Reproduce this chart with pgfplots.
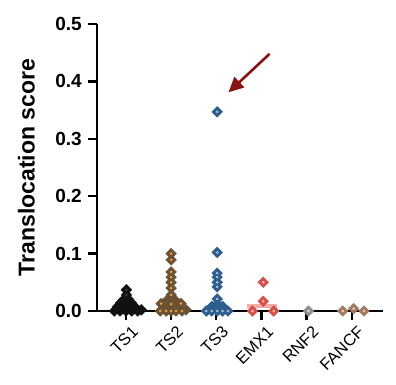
\documentclass[border=0pt]{standalone}
\usepackage{pgfplots}
\pgfplotsset{compat=1.18}
\usepackage{fontspec}
\setmainfont{Liberation Sans}
\usetikzlibrary{arrows.meta}
\definecolor{cTSone}{HTML}{111111}
\definecolor{cTSonec}{HTML}{3A3A3A}
\definecolor{cTStwo}{HTML}{6B5232}
\definecolor{cTStwoc}{HTML}{F2A24E}
\definecolor{cTSthree}{HTML}{2D5E8E}
\definecolor{cTSthreec}{HTML}{A8C3E0}
\definecolor{cEMX}{HTML}{D6504A}
\definecolor{cEMXc}{HTML}{F6B8B2}
\definecolor{cEMXbar}{HTML}{F4ABA6}
\definecolor{cRNF}{HTML}{909090}
\definecolor{cRNFc}{HTML}{D9D9D9}
\definecolor{cFAN}{HTML}{A07A62}
\definecolor{cFANc}{HTML}{F6CBB4}
\definecolor{cArrow}{HTML}{8B1212}
\begin{document}
\begin{tikzpicture}
\useasboundingbox (0pt,0pt) rectangle (396pt,384pt);
\begin{axis}[
  at={(97pt,73pt)}, anchor=south west,
  scale only axis, width=286pt, height=287pt,
  xmin=-0.64, xmax=5.69, ymin=0, ymax=0.5,
  clip=false,
  axis x line=bottom, axis y line=left,
  axis line style={-, line width=2.4pt},
  every tick/.style={black, line width=2.4pt},
  tick align=outside,
  major tick length=9pt,
  xtick={0,1,2,3,4,5},
  xticklabels={TS1,TS2,TS3,EMX1,RNF2,FANCF},
  x tick label style={rotate=45, anchor=north east, font=\fontsize{16.5}{17}\selectfont, inner sep=1pt, yshift=-6pt, xshift=1pt},
  ytick={0,0.1,0.2,0.3,0.4,0.5},
  yticklabel style={/pgf/number format/fixed, /pgf/number format/fixed zerofill, /pgf/number format/precision=1, /pgf/number format/assume math mode=true},
  y tick label style={font=\bfseries\fontsize{19}{19}\selectfont, inner sep=1pt, xshift=-5pt},
  ylabel={Translocation score},
  every axis y label/.style={at={(ticklabel cs:0.5)}, rotate=90, anchor=south, yshift=16pt, font=\bfseries\fontsize{23}{23}\selectfont},
  dmd/.style={only marks, mark=square*, mark size=3.8pt, mark options={rotate=45, line width=0.4pt}},
  dot/.style={only marks, mark=*, mark size=1.1pt, mark options={draw=none}},
]
% EMX1 median bar
\addplot[cEMXbar, line width=3.5pt, no marks] coordinates {(2.68,0.009) (3.35,0.009)};

% TS1
\addplot[dmd, color=cTSone] coordinates {
(0.01,0.037) (0.01,0.028)
(-0.26,0) (-0.13,0) (0,0) (0.13,0) (0.26,0) (0.34,0.002)
(-0.19,0.007) (-0.06,0.007) (0.07,0.007) (0.20,0.007)
(-0.12,0.014) (0,0.014) (0.12,0.014)
(-0.05,0.02) (0.06,0.02)
};
\addplot[dot, color=cTSonec] coordinates {
(0.01,0.037) (0.01,0.028)
};

% TS2
\addplot[dmd, color=cTStwo] coordinates {
(1,0.100) (1,0.089) (1,0.068) (1,0.059) (1,0.050) (1,0.040) (1,0.028) (1,0.021)
(0.9,0.018) (1.1,0.018)
(0.78,0.013) (1,0.012) (1.22,0.013)
(0.84,0.006) (1.16,0.006) (0.95,0.006) (1.05,0.006)
(0.76,0) (0.89,0) (1,0) (1.11,0) (1.24,0) (1.33,0.002)
};
\addplot[dot, color=cTStwoc] coordinates {
(1,0.100) (1,0.089) (1,0.068) (1,0.059) (1,0.050) (1,0.040) (1,0.028)
(0.78,0.013) (1,0.012) (1.22,0.013)
(0.76,0) (0.89,0) (1,0) (1.11,0) (1.24,0)
};

% TS3
\addplot[dmd, color=cTSthree] coordinates {
(2.02,0.347) (2.02,0.102) (2.02,0.066) (2.02,0.059) (2.02,0.050) (2.02,0.042)
(2.02,0.021) (2.02,0.012) (1.9,0.008) (2.14,0.008)
(1.78,0) (1.9,0) (2.02,0) (2.14,0) (2.26,0)
};
\addplot[dot, color=cTSthreec] coordinates {
(2.02,0.347) (2.02,0.102) (2.02,0.066) (2.02,0.059) (2.02,0.050) (2.02,0.042)
(2.02,0.021) (1.78,0) (1.9,0) (2.02,0) (2.14,0) (2.26,0)
};

% EMX1
\addplot[dmd, color=cEMX] coordinates {(2.8,0) (3.27,0) (3.04,0.017) (3.04,0.050)};
\addplot[dot, color=cEMXc] coordinates {(2.8,0) (3.27,0) (3.04,0.017) (3.04,0.050)};

% RNF2
\addplot[dmd, color=cRNF] coordinates {(4.04,0)};
\addplot[dot, color=cRNFc] coordinates {(4.04,0)};

% FANCF
\addplot[dmd, color=cFAN] coordinates {(4.8,0) (5.04,0.004) (5.27,0)};
\addplot[dot, color=cFANc] coordinates {(4.8,0) (5.04,0.004) (5.27,0)};

% arrow
\draw[cArrow, line width=2.6pt, -{Triangle[length=15pt, width=14pt]}] (axis cs:3.18,0.448) -- (axis cs:2.27,0.381);
\end{axis}
\end{tikzpicture}
\end{document}
